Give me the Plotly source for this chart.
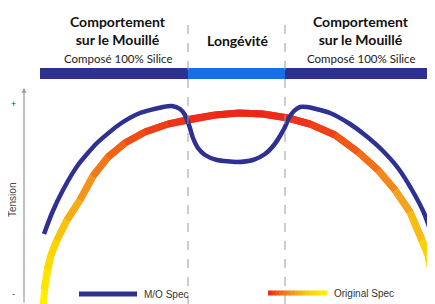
import plotly.graph_objects as go
from plotly.colors import sample_colorscale

# ---- data (position across tread vs tension, arbitrary units) ----
orig_x = [43, 44, 47, 51, 57, 67, 80, 93, 108, 125, 145, 168, 190, 215, 239,
          263, 288, 310, 335, 358, 378, 395, 410, 422, 428, 431, 433, 434]
orig_y = [-2, 14, 34, 49, 64, 84, 104, 128, 147, 161, 172, 180, 185, 189, 191,
          190, 186, 180, 169, 152, 134, 114, 92, 64, 49, 34, 14, -2]

mo_x = [44, 52, 63, 78, 97, 120, 140, 163, 172, 180, 185, 189, 193, 198, 205,
        217, 237, 253, 265, 274, 280, 285, 289, 294, 300, 307, 330, 350, 365,
        382, 398, 412, 424, 432]
mo_y = [70, 91, 114, 139, 161, 180, 191, 197, 198, 195, 189, 179, 166, 156, 149,
        144, 142, 144, 150, 159, 168, 177, 186, 193, 197, 197, 191, 180, 169,
        154, 136, 114, 91, 69]

zone_edges = [40, 188, 285, 431]
zone_titles = ["Comportement<br>sur le Mouillé", "Longévité", "Comportement<br>sur le Mouillé"]
zone_subtitles = ["Composé 100% Silice", "", "Composé 100% Silice"]
zone_colors = ["#2e3192", "#1670ee", "#2e3192"]
series_names = ["M/O Spec", "Original Spec"]

BLUE = "#2e3192"
GRAD = [[0.0, "#fff200"], [0.3, "#fbd400"], [0.55, "#f5a020"],
        [0.78, "#f26a14"], [1.0, "#ee2519"]]
FONT = "Lato"
PAGE_OFFSET = 8  # browser body margin

fig = go.Figure()

# Original spec: gradient line drawn as overlapping coloured pieces
ymax = max(orig_y)
npts = len(orig_x)
for i in range(npts - 1):
    t = max(0.0, min(1.0, (orig_y[i] + orig_y[i + 1]) / 2 / ymax))
    c = sample_colorscale(GRAD, [t])[0]
    j = min(i + 3, npts)
    fig.add_trace(go.Scatter(x=orig_x[i:j], y=orig_y[i:j], mode="lines",
                             line=dict(color=c, width=7), showlegend=False,
                             hoverinfo="skip"))

# M/O spec
fig.add_trace(go.Scatter(x=mo_x, y=mo_y, mode="lines", name=series_names[0],
                         line=dict(color=BLUE, width=4.5, shape="spline", smoothing=0.6),
                         showlegend=False))

shapes = []
for i in range(3):
    shapes.append(dict(type="rect", xref="x", yref="y", x0=zone_edges[i], x1=zone_edges[i + 1],
                       y0=225, y1=236, fillcolor=zone_colors[i], line=dict(width=0), layer="below"))
for xe in zone_edges[1:3]:
    shapes.append(dict(type="line", xref="x", yref="y", x0=xe, x1=xe, y0=0, y1=286,
                       line=dict(color="#9a9a9a", width=1, dash="dash"), layer="above"))

shapes.append(dict(type="line", xref="x", yref="y", x0=79, x1=137, y0=10, y1=10,
                   line=dict(color=BLUE, width=5)))
n = 16
lx0, lx1 = 268, 327
for k in range(n):
    a = lx0 + (lx1 - lx0) * k / n
    b = lx0 + (lx1 - lx0) * (k + 1) / n + 0.6
    c = sample_colorscale(GRAD, [1 - (k + 0.5) / n])[0]
    shapes.append(dict(type="line", xref="x", yref="y", x0=a, x1=b, y0=11, y1=11,
                       line=dict(color=c, width=5)))

ann = []
centers = [118, 238, 361]
for i in range(3):
    if zone_subtitles[i]:
        ann.append(dict(x=centers[i], y=274, xref="x", yref="y", text="<b>" + zone_titles[i] + "</b>",
                        showarrow=False, font=dict(family=FONT, size=14, color="#111"),
                        xanchor="center", yanchor="middle"))
        ann.append(dict(x=centers[i], y=246, xref="x", yref="y", text=zone_subtitles[i],
                        showarrow=False, font=dict(family=FONT, size=11.5, color="#222"),
                        xanchor="center", yanchor="middle"))
    else:
        ann.append(dict(x=centers[i], y=264, xref="x", yref="y", text="<b>" + zone_titles[i] + "</b>",
                        showarrow=False, font=dict(family=FONT, size=14, color="#111"),
                        xanchor="center", yanchor="middle"))

ann.append(dict(x=24, y=216, ax=24, ay=0, xref="x", yref="y", axref="x", ayref="y",
                text="", showarrow=True, arrowhead=2, arrowsize=0.8, arrowwidth=1.2,
                arrowcolor="#999"))
ann.append(dict(x=12, y=104, xref="x", yref="y", text="Tension", textangle=-90, showarrow=False,
                font=dict(family="Liberation Sans", size=10, color="#444")))
ann.append(dict(x=13, y=200, xref="x", yref="y", text="+", showarrow=False,
                font=dict(family="Liberation Sans", size=9, color="#444")))
ann.append(dict(x=13, y=10, xref="x", yref="y", text="-", showarrow=False,
                font=dict(family="Liberation Sans", size=9, color="#444")))
ann.append(dict(x=142, y=10, xref="x", yref="y", text=series_names[0], showarrow=False,
                xanchor="left", font=dict(family="Liberation Sans", size=10, color="#333")))
ann.append(dict(x=332, y=11, xref="x", yref="y", text=series_names[1], showarrow=False,
                xanchor="left", font=dict(family="Liberation Sans", size=10, color="#333")))

W, H = 435, 304
fig.update_layout(
    width=W - PAGE_OFFSET, height=H - PAGE_OFFSET, margin=dict(l=0, r=0, t=0, b=0),
    paper_bgcolor="white", plot_bgcolor="white",
    xaxis=dict(range=[PAGE_OFFSET, W], visible=False, fixedrange=True),
    yaxis=dict(range=[0, H - PAGE_OFFSET], visible=False, fixedrange=True),
    shapes=shapes, annotations=ann, showlegend=False,
)

fig.write_html("out.html")
